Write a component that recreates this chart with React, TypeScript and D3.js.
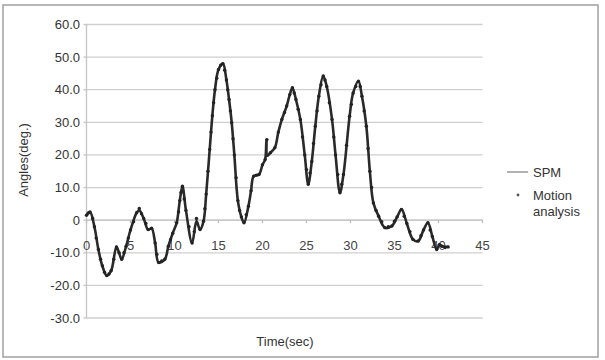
import React from "react";
import * as d3 from "d3";

const spmTime = [0.0,0.4,0.9,1.35,1.8,2.3,2.8,3.4,3.7,4.0,4.5,5.0,5.7,6.0,6.5,7.0,7.4,7.8,8.2,8.9,9.3,9.8,10.25,10.6,10.9,11.3,12.0,12.5,12.9,13.3,13.6,14.0,14.3,14.6,15.0,15.5,15.9,16.2,16.5,16.8,17.2,17.6,17.9,18.4,18.7,19.0,19.6,20.0,20.3,20.45,20.55,20.9,21.4,21.8,22.2,22.75,23.1,23.4,23.8,24.3,24.8,25.2,25.6,26.0,26.4,26.9,27.3,27.9,28.3,28.8,29.2,29.9,30.3,30.9,31.3,31.8,32.2,32.6,33.2,33.9,34.7,35.3,35.8,36.4,37.1,37.7,38.3,38.8,39.3,39.8,40.1,40.4,41.1];
const spmAngle = [1.5,2.5,-2,-9,-14,-17,-15.5,-8.2,-10,-12,-8,-3,2.3,3.0,0.5,-2.9,-2.5,-7,-13,-12,-8,-4,-0.8,6,10.4,3,-7,-0.3,-2.9,-0.3,8,21.7,32,40,46.2,48,43,37,29.9,20,6,1,-0.8,4.3,9,13.5,14,17,18.6,24.7,19.8,20.7,22.2,27,30.9,35,38.5,40.6,37,30.9,20,11,18,28.8,38,44.2,41,30.9,20,8.4,14,31.9,39,42.6,38,28.8,15,5.3,1.2,-2.3,-1.8,1,3.3,-1,-5.9,-6.4,-3,-0.8,-5,-9,-7.5,-8,-8.2];

const motionTime = [0.0,0.2,0.4,0.7,0.9,1.1,1.35,1.6,1.8,2.05,2.3,2.55,2.8,3.1,3.4,3.7,4.0,4.25,4.5,4.75,5.0,5.35,5.7,6.0,6.25,6.5,6.75,7.0,7.4,7.8,8.0,8.2,8.55,8.9,9.3,9.55,9.8,10.25,10.45,10.6,10.75,10.9,11.1,11.3,11.65,12.0,12.25,12.5,12.9,13.3,13.45,13.6,13.8,14.0,14.15,14.3,14.45,14.6,14.8,15.0,15.25,15.5,15.7,15.9,16.05,16.2,16.35,16.5,16.65,16.8,17.0,17.2,17.4,17.6,17.9,18.15,18.4,18.7,19.0,19.3,19.6,20.0,20.3,20.5,20.9,21.4,21.8,22.2,22.5,22.75,23.1,23.4,23.6,23.8,24.05,24.3,24.55,24.8,25.0,25.2,25.4,25.6,25.8,26.0,26.2,26.4,26.65,26.9,27.1,27.3,27.6,27.9,28.1,28.3,28.55,28.8,29.0,29.2,29.55,29.9,30.1,30.3,30.6,30.9,31.1,31.3,31.55,31.8,32.0,32.2,32.4,32.6,32.9,33.2,33.55,33.9,34.3,34.7,35.0,35.3,35.8,36.1,36.4,36.75,37.1,37.7,38.0,38.3,38.8,39.05,39.3,39.8,40.1,40.4,40.75,41.1];
const motionAngle = [1.5,2.2,2.5,0.5,-2,-5.5,-9,-12,-14,-16,-17,-16.5,-15.5,-12,-8.2,-10,-12,-10,-8,-5.5,-3,-0.5,2.3,3.6,2,0.5,-1,-2.9,-2.5,-7,-10.5,-13,-12.5,-12,-8,-6,-4,-0.8,2.5,6,8.5,10.4,6.5,3,-2,-7,-3.5,0.5,-2.9,-0.3,3.5,8,15,21.7,27,32,36,40,43.5,46.2,47.5,48,46,43,40,37,33.5,29.9,25,20,13,6,3,1,-0.8,1.7,4.3,9,13.5,13.8,14,17,18.6,24.7,20.7,22.2,27,30.9,33,35,38.5,40.6,39,37,34,30.9,25.5,20,15.5,11,14.5,18,23.5,28.8,33.5,38,41.5,44.2,43,41,36,30.9,25.5,20,14,8.4,11,14,23,31.9,35.5,39,41,42.6,41,38,33.5,28.8,22,15,10,5.3,3,1.2,-0.5,-2.3,-2,-1.8,-0.3,1,3.3,1.2,-1,-3.5,-5.9,-6.4,-4.8,-3,-0.8,-3,-5,-9,-7.5,-8,-8.4,-8.2];

const yTicks = [60, 50, 40, 30, 20, 10, 0, -10, -20, -30];
const xTicks = [0, 5, 10, 15, 20, 25, 30, 35, 40, 45];
const seriesNames = ["SPM", "Motion analysis"];

export default function App() {
  const W = 605, H = 360;
  const left = 86.5, right = 482.5, top = 24.5, bottom = 318;
  const x = d3.scaleLinear().domain([0, 45]).range([left, right]);
  const y = d3.scaleLinear().domain([-30, 60]).range([bottom, top]);
  const font = "'Liberation Sans', Arial, sans-serif";

  const spm = spmTime.map((t, i) => [t, spmAngle[i]] as [number, number]);
  const motion = motionTime.map((t, i) => [t, motionAngle[i]] as [number, number]);
  const line = d3.line<[number, number]>()
    .x(d => x(d[0]))
    .y(d => y(d[1]))
    .curve(d3.curveCatmullRom.alpha(0.5));

  return (
    <svg width={W} height={H} style={{ position: "absolute", left: 0, top: 0, background: "#fff" }} fontFamily={font}>
      <rect x={3} y={5} width={595} height={352} fill="#fff" stroke="#a0a0a0" strokeWidth={1.5} />
      {yTicks.map(v => (
        <line key={"g" + v} x1={left} x2={right} y1={y(v)} y2={y(v)} stroke="#cfcfcf" strokeWidth={1.3} />
      ))}
      <line x1={left} x2={left} y1={top} y2={bottom} stroke="#c4c4c4" strokeWidth={1.3} />
      {yTicks.map(v => (
        <line key={"yt" + v} x1={left - 3} x2={left} y1={y(v)} y2={y(v)} stroke="#c4c4c4" strokeWidth={1.3} />
      ))}
      <line x1={left} x2={right} y1={y(0)} y2={y(0)} stroke="#c4c4c4" strokeWidth={1.3} />
      {xTicks.map(t => (
        <line key={"xt" + t} x1={x(t)} x2={x(t)} y1={y(0)} y2={y(0) + 3} stroke="#bbb" strokeWidth={1.3} />
      ))}
      {yTicks.map(v => (
        <text key={"yl" + v} x={80} y={y(v)} dy="0.35em" textAnchor="end" fontSize={13} fill="#333">
          {v === 0 ? "0" : v.toFixed(1)}
        </text>
      ))}
      {xTicks.map(t => (
        <text key={"xl" + t} x={x(t)} y={249.5} textAnchor="middle" fontSize={13} fill="#444">
          {t}
        </text>
      ))}
      <path d={line(spm) || ""} fill="none" stroke="#2a2a2a" strokeWidth={2.6} />
      {motion.map((d, i) => (
        <circle key={"m" + i} cx={x(d[0])} cy={y(d[1])} r={1.7} fill="#222" />
      ))}
      <text transform={`translate(28,160) rotate(-90)`} textAnchor="middle" fontSize={13} fill="#333">Angles(deg.)</text>
      <text x={285} y={346} textAnchor="middle" fontSize={13} fill="#333">Time(sec)</text>
      <line x1={507} x2={528} y1={172} y2={172} stroke="#888" strokeWidth={1.3} />
      <text x={533} y={176.5} fontSize={13} fill="#333">{seriesNames[0]}</text>
      <circle cx={518} cy={195} r={1.4} fill="#555" />
      <text x={533} y={199.5} fontSize={13} fill="#333">Motion</text>
      <text x={533} y={215.5} fontSize={13} fill="#333">analysis</text>
    </svg>
  );
}
